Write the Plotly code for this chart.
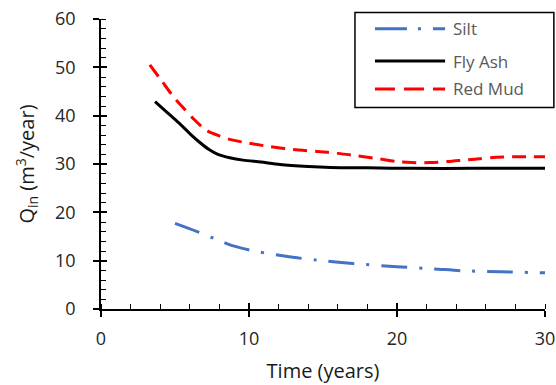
import plotly.graph_objects as go

silt_x = [5.0, 6.5, 7.8, 9.0, 10.5, 12.5, 14.6, 17.0, 20.0, 22.5, 24.5, 27.0, 30.0]
silt_y = [17.7, 16.0, 14.4, 13.0, 11.9, 10.9, 10.1, 9.4, 8.75, 8.3, 7.9, 7.7, 7.5]

fly_x = [3.65, 4.5, 5.3, 6.0, 6.7, 7.3, 7.9, 8.7, 9.6, 10.8, 12.1, 14.0, 15.5, 18.0, 21.0, 25.0, 30.0]
fly_y = [42.9, 40.6, 38.4, 36.3, 34.4, 33.0, 32.0, 31.3, 30.8, 30.4, 29.9, 29.5, 29.3, 29.2, 29.1, 29.1, 29.1]

red_x = [3.3, 4.1, 4.9, 5.6, 6.2, 7.1, 8.0, 8.7, 10.0, 11.4, 13.0, 14.6, 16.0, 17.3, 18.7, 20.0, 21.0, 22.2, 23.4, 24.5, 25.6, 26.7, 28.5, 30.0]
red_y = [50.5, 47.2, 43.9, 41.5, 39.5, 37.0, 35.8, 35.1, 34.3, 33.6, 33.0, 32.6, 32.2, 31.7, 31.1, 30.5, 30.3, 30.3, 30.5, 30.8, 31.1, 31.4, 31.5, 31.5]

series_names = ["Silt", "Fly Ash", "Red Mud"]
series_colors = ["#4472C4", "black", "#FF0000"]
plot_dashes = ["26px,12px,3px,12px", "solid", "14px,8px"]
legend_dashes = ["32px,11px,3px,12px", "solid", "20px,9px"]

fig = go.Figure()
for name, xs, ys, col, dsh in zip(series_names, [silt_x, fly_x, red_x], [silt_y, fly_y, red_y],
                                  series_colors, plot_dashes):
    fig.add_trace(go.Scatter(x=xs, y=ys, mode="lines", name=name, showlegend=False,
                             line=dict(color=col, width=3, dash=dsh, shape="spline", smoothing=0.8)))

# overlay axes to get crossing major ticks
fig.add_trace(go.Scatter(x=[0], y=[0], xaxis="x2", yaxis="y2", mode="markers",
                         marker=dict(opacity=0), showlegend=False, hoverinfo="skip"))

# manual legend (Excel-style long line samples)
box = dict(x0=0.572, x1=1.020, y0=0.695, y1=1.022)
fig.add_shape(type="rect", xref="paper", yref="paper", **box,
              line=dict(color="black", width=1.5), fillcolor="white", layer="above")
legend_y = [0.966, 0.855, 0.759]
for name, col, dsh, ly in zip(series_names, series_colors, legend_dashes, legend_y):
    fig.add_shape(type="line", xref="paper", yref="paper", x0=0.617, x1=0.775, y0=ly, y1=ly,
                  line=dict(color=col, width=3, dash=dsh), layer="above")
    fig.add_annotation(text=name, xref="paper", yref="paper", x=0.789, y=ly, xanchor="left",
                       yanchor="middle", showarrow=False,
                       font=dict(size=17, color="#595959"))

font_family = "'Open Sans', sans-serif"

fig.update_layout(
    width=556, height=385,
    margin=dict(l=101, r=11, t=19, b=76),
    paper_bgcolor="white", plot_bgcolor="white",
    font=dict(family=font_family, size=18, color="#262626"),
    showlegend=False,
    xaxis=dict(range=[0, 30], tickvals=[0, 10, 20, 30], ticks="outside", ticklen=6,
               tickwidth=1.5, tickcolor="black", showline=True, linecolor="black", linewidth=1.5,
               showgrid=False, zeroline=False, automargin=False, ticklabelstandoff=7,
               minor=dict(dtick=2, ticks="inside", ticklen=5, tickwidth=1, tickcolor="black", showgrid=False),
               title=dict(text="Time (years)", font=dict(size=20, color="#1a1a1a")),
               tickfont=dict(size=18, color="#262626")),
    yaxis=dict(range=[0, 60], tickvals=[0, 10, 20, 30, 40, 50, 60], ticks="outside", ticklen=6,
               tickwidth=1.5, tickcolor="black", showline=True, linecolor="black", linewidth=1.5,
               showgrid=False, zeroline=False, automargin=False, ticklabelstandoff=14,
               minor=dict(dtick=2, ticks="inside", ticklen=5, tickwidth=1, tickcolor="black", showgrid=False),
               title=dict(text="Q<sub>in</sub> (m<sup>3</sup>/year)", font=dict(size=20, color="#1a1a1a")),
               tickfont=dict(size=18, color="#262626")),
    xaxis2=dict(range=[0, 30], overlaying="x", anchor="y2", tickvals=[0, 10, 20, 30], ticks="inside",
                ticklen=6, tickwidth=1.5, tickcolor="black", showticklabels=False, showgrid=False,
                zeroline=False, showline=False),
    yaxis2=dict(range=[0, 60], overlaying="y", anchor="x2", tickvals=[0, 10, 20, 30, 40, 50, 60], ticks="inside",
                ticklen=6, tickwidth=1.5, tickcolor="black", showticklabels=False, showgrid=False,
                zeroline=False, showline=False),
)

fig.write_html("out.html")
